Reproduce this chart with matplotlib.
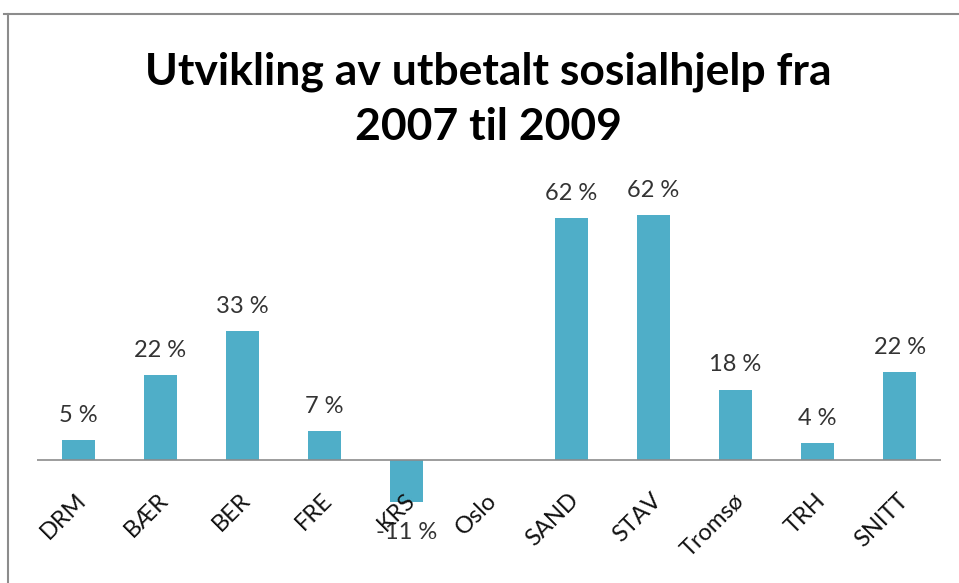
import numpy as np
import matplotlib.pyplot as plt
from matplotlib.lines import Line2D

# Data (percent change 2007-2009)
kommuner = ["DRM", "BÆR", "BER", "FRE", "KRS", "Oslo", "SAND", "STAV", "Tromsø", "TRH", "SNITT"]
endring = [5.1, 21.6, 32.8, 7.4, -10.7, np.nan, 61.5, 62.4, 18.0, 4.4, 22.4]
etiketter = ["5 %", "22 %", "33 %", "7 %", "-11 %", "", "62 %", "62 %", "18 %", "4 %", "22 %"]

W, H = 959, 583
fig = plt.figure(figsize=(W / 100, H / 100), dpi=100)
plt.rcParams['font.family'] = ['Lato', 'DejaVu Sans']

# Plot area in pixels: x 37..941, y 185..539 (zero line at y=460)
ax = fig.add_axes([37 / W, (H - 539) / H, (941 - 37) / W, (539 - 185) / H])
x = np.arange(len(kommuner))
ax.bar(x, endring, width=0.4, color='#4FAEC8', zorder=2)
ax.axhline(0, color='#8c8c8c', lw=1.2, zorder=3)
ax.set_xlim(-0.5, len(kommuner) - 0.5)
ax.set_ylim(-20, 70)
ax.set_yticks([])
ax.set_xticks([])
for s in ax.spines.values():
    s.set_visible(False)

for xi, v, lab in zip(x, endring, etiketter):
    if np.isnan(v):
        continue
    if v >= 0:
        ax.annotate(lab, (xi, v), xytext=(0, 13), textcoords='offset points',
                    ha='center', va='baseline', fontsize=17, color='#333333')
    else:
        ax.annotate(lab, (xi, v), xytext=(0, -14), textcoords='offset points',
                    ha='center', va='top', fontsize=17, color='#333333')

# Category labels, rotated 45 degrees below the zero line
for xi, name in zip(x, kommuner):
    ax.annotate(name, (xi, 0), xytext=(-2, -21), textcoords='offset points',
                ha='right', va='top', rotation=45, rotation_mode='anchor',
                fontsize=17, color='#111111')

fig.text(488 / W, 1 - 72 / H, "Utvikling av utbetalt sosialhjelp fra",
         ha='center', va='center', fontsize=32, fontweight='bold')
fig.text(488 / W, 1 - 127 / H, "2007 til 2009",
         ha='center', va='center', fontsize=32, fontweight='bold')

# Outer chart border (top and left visible)
fig.add_artist(Line2D([4 / W, 1], [1 - 14 / H, 1 - 14 / H], color='#8c8c8c', lw=1.5))
fig.add_artist(Line2D([8 / W, 8 / W], [0, 1 - 14 / H], color='#8c8c8c', lw=1.5))

fig.savefig('out.png', dpi=100)
